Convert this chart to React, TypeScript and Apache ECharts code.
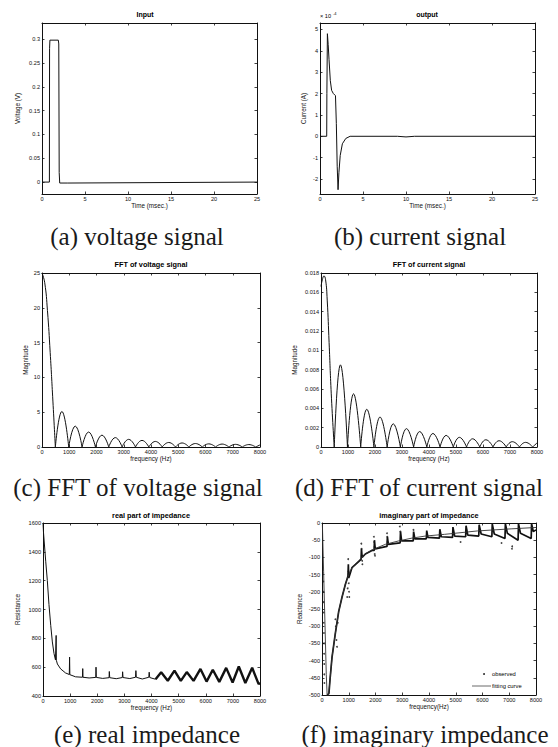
import React, { useEffect, useRef } from 'react';
import * as echarts from 'echarts';

type P = [number, number];

const FONT = '"Liberation Sans", Arial, Helvetica, sans-serif';
const SERIF = '"Liberation Serif", "Times New Roman", serif';
const INK = '#111111';

// ---------- tick labels ----------
const timeTicks = [0, 5, 10, 15, 20, 25];
const freqTicks = [0, 1000, 2000, 3000, 4000, 5000, 6000, 7000, 8000];
const voltageTicks = [0, 0.05, 0.1, 0.15, 0.2, 0.25, 0.3];
const currentTicks = [-2, -1, 0, 1, 2, 3, 4, 5];
const fftVTicks = [0, 5, 10, 15, 20, 25];
const fftITicks = [0, 0.002, 0.004, 0.006, 0.008, 0.01, 0.012, 0.014, 0.016, 0.018];
const resistanceTicks = [400, 600, 800, 1000, 1200, 1400, 1600];
const reactanceTicks = [-500, -450, -400, -350, -300, -250, -200, -150, -100, -50, 0];

// ---------- (a) input voltage, time in msec ----------
const voltageSignal: P[] = [
  [0, 0], [0.86, 0], [0.88, 0.28], [0.92, 0.298], [1.9, 0.298], [1.95, 0.29],
  [2.0, 0.02], [2.06, -0.002], [3, -0.002], [25, 0],
];

// ---------- (b) output current, x 1e-4 A ----------
const currentSignal: P[] = [
  [0, 0], [0.78, 0], [0.8, 2.0], [0.86, 4.8], [0.95, 4.3], [1.05, 3.6], [1.2, 2.6],
  [1.35, 2.15], [1.55, 2.0], [1.8, 1.9], [1.9, 0.6], [2.0, -1.4], [2.1, -2.5],
  [2.2, -1.7], [2.35, -0.9], [2.6, -0.35], [3.0, -0.1], [3.5, 0], [9, 0], [10, -0.03],
  [11, 0], [25, 0],
];

// ---------- (c),(d) FFT lobes ----------
const lobeZeros = [490, 980, 1470, 1960, 2450, 2940, 3430, 3920, 4410, 4900, 5390, 5880, 6370, 6860, 7350, 7840];
const fftVMain: P[] = [[0, 25], [100, 23.6], [200, 19.6], [300, 13.6], [400, 6.6], [490, 0]];
const fftVPeaks: P[] = [
  [730, 5.1], [1220, 3.0], [1710, 2.15], [2200, 1.7], [2690, 1.35], [3180, 1.1], [3670, 0.95],
  [4160, 0.8], [4650, 0.65], [5140, 0.58], [5630, 0.5], [6120, 0.45], [6610, 0.42], [7100, 0.38], [7590, 0.35],
];
const fftVTail: P[] = [[7840, 0], [8000, 0.3]];
const fftIMain: P[] = [
  [0, 0.0166], [50, 0.0173], [110, 0.0177], [170, 0.0173], [230, 0.0152], [300, 0.0108], [380, 0.0055], [490, 0],
];
const fftIPeaks: P[] = [
  [720, 0.0085], [1205, 0.0055], [1695, 0.0039], [2185, 0.0031], [2675, 0.0024], [3165, 0.0019], [3655, 0.0016],
  [4145, 0.0014], [4635, 0.0012], [5125, 0.001], [5615, 0.00085], [6105, 0.00075], [6595, 0.00065], [7085, 0.00055], [7575, 0.00048],
];
const fftITail: P[] = [[7840, 0], [8000, 0.00042]];

// ---------- (e) real part ----------
const resistanceLow: P[] = [
  [0, 1600], [20, 1530], [100, 1335], [160, 1200], [220, 1035], [285, 890], [345, 775], [405, 695],
  [460, 650], [478, 648], [485, 820], [492, 648], [530, 622], [650, 588], [830, 560], [970, 549],
  [980, 670], [990, 548], [1200, 533], [1455, 530], [1465, 590], [1475, 530], [1700, 525], [1945, 529],
  [1955, 600], [1965, 529], [2200, 522], [2435, 527], [2445, 570], [2460, 527], [2700, 520], [2925, 528],
  [2935, 568], [2950, 528], [3200, 521], [3410, 530], [3425, 576], [3440, 530], [3660, 518], [3900, 530],
  [3915, 565], [3935, 528], [4150, 516],
];
const resistanceHigh: P[] = [
  [4150, 516], [4356, 564], [4600, 506], [4847, 576], [5080, 505], [5300, 566], [5550, 505], [5805, 588],
  [6030, 500], [6260, 582], [6500, 498], [6753, 595], [6990, 494], [7218, 605], [7460, 490], [7711, 596],
  [7950, 482], [8000, 492],
];

// ---------- (f) imaginary part ----------
const reactanceFit: P[] = [
  [15, -5], [60, -140], [110, -290], [160, -440], [195, -506], [240, -506], [300, -455], [375, -390],
  [500, -320], [625, -257], [750, -215], [875, -178], [1000, -150], [1120, -130], [1370, -110], [1620, -90],
  [1870, -78], [2370, -62], [2870, -52], [3360, -44], [3860, -38], [4580, -33], [5820, -23], [7070, -17], [8000, -13],
];
const reactanceBand: P[] = [
  [200, -500], [260, -495], [300, -455], [375, -390], [500, -320], [625, -257], [750, -215], [875, -178],
  [970, -155], [985, -120], [1000, -160], [1120, -130], [1370, -112], [1460, -106], [1475, -75], [1500, -100],
  [1620, -90], [1870, -80], [1950, -80], [1960, -50], [1990, -75], [2430, -68], [2445, -40], [2480, -62],
  [2920, -58], [2935, -25], [2975, -52], [3410, -52], [3425, -25], [3470, -46], [3900, -46], [3915, -22],
  [3960, -42], [4390, -44], [4405, -18], [4460, -40], [4880, -42], [4895, -12], [4960, -38], [5370, -40],
  [5385, -8], [5450, -35], [5860, -38], [5875, -5], [5950, -32], [6350, -40], [6365, -3], [6440, -32],
  [6840, -45], [6855, -2], [6930, -30], [7330, -50], [7345, -2], [7420, -30], [7820, -45], [7835, -2],
  [7900, -25], [8000, -20],
];
const reactanceDots: P[] = [
  [50, -170], [55, -200], [60, -230], [62, -260], [66, -290], [70, -320], [74, -350], [78, -380], [82, -410],
  [86, -440], [90, -465], [500, -280], [520, -300], [540, -340], [560, -360], [590, -290], [940, -215],
  [960, -190], [980, -105], [990, -140], [1000, -175], [1010, -200], [1020, -215], [1470, -60], [1480, -75],
  [1490, -95], [1500, -110], [1510, -120], [1940, -40], [1950, -55], [1960, -70], [1970, -90], [1980, -95],
  [2430, -30], [2440, -40], [2450, -55], [2910, -10], [2930, -25], [3420, -20], [5180, -55], [6710, -58],
  [7100, -75], [7110, -68],
];

function lobes(main: P[], zeros: number[], peaks: P[], tail: P[]) {
  const d: (P | null)[] = [...main, null];
  peaks.forEach((p, i) => {
    d.push([zeros[i], 0], p, [zeros[i + 1], 0], null);
  });
  d.push(...tail);
  return d;
}

const grids = [
  { l: 42, t: 23, w: 215, h: 171 },
  { l: 320, t: 23, w: 215, h: 171 },
  { l: 42, t: 273, w: 218, h: 174 },
  { l: 321, t: 273, w: 216, h: 174 },
  { l: 43, t: 523, w: 217, h: 173 },
  { l: 322, t: 523, w: 214, h: 172 },
];

function axisPair(gi: number, dim: 'x' | 'y', min: number, max: number, ticks: number[], name: string, nameGap: number) {
  const base = {
    type: 'value',
    gridIndex: gi,
    min,
    max,
    splitLine: { show: false },
    axisLine: { show: true, onZero: false, lineStyle: { color: INK, width: 1 } },
    axisTick: { show: true, inside: true, length: 2.5, customValues: ticks, lineStyle: { color: INK, width: 0.8 } },
  };
  const main = {
    ...base,
    position: dim === 'x' ? 'bottom' : 'left',
    axisLabel: {
      show: true,
      customValues: ticks,
      fontSize: 5.6,
      margin: dim === 'x' ? 1.5 : 2,
      color: INK,
      fontFamily: FONT,
      formatter: (v: number) => String(v),
    },
    name,
    nameLocation: 'middle',
    nameGap,
    nameTextStyle: { fontSize: 6.3, color: INK, fontFamily: FONT },
  };
  const mirror = {
    ...base,
    position: dim === 'x' ? 'top' : 'right',
    axisLabel: { show: false },
  };
  return [main, mirror];
}

const xAxes = [
  ...axisPair(0, 'x', 0, 25, timeTicks, 'Time (msec.)', 2),
  ...axisPair(1, 'x', 0, 25, timeTicks, 'Time (msec.)', 5),
  ...axisPair(2, 'x', 0, 8000, freqTicks, 'frequency (Hz)', 5),
  ...axisPair(3, 'x', 0, 8000, freqTicks, 'frequency (Hz)', 5),
  ...axisPair(4, 'x', 0, 8000, freqTicks, 'frequency (Hz)', 6),
  ...axisPair(5, 'x', 0, 8000, freqTicks, 'frequency(Hz)', 6),
];
const yAxes = [
  ...axisPair(0, 'y', -0.025, 0.334, voltageTicks, 'Voltage (V)', 22),
  ...axisPair(1, 'y', -2.7, 5.3, currentTicks, 'Current (A)', 14),
  ...axisPair(2, 'y', 0, 25, fftVTicks, 'Magnitude', 14),
  ...axisPair(3, 'y', 0, 0.018, fftITicks, 'Magnitude', 24),
  ...axisPair(4, 'y', 400, 1600, resistanceTicks, 'Resistance', 23),
  ...axisPair(5, 'y', -500, 0, reactanceTicks, 'Reactance', 20),
];

function line(gi: number, data: any[], width = 1, extra: any = {}) {
  return {
    type: 'line',
    xAxisIndex: gi * 2,
    yAxisIndex: gi * 2,
    data,
    showSymbol: false,
    symbol: 'none',
    connectNulls: false,
    lineStyle: { color: INK, width },
    itemStyle: { color: INK },
    ...extra,
  };
}

function txt(x: number, y: number, text: string, size: number, opts: any = {}) {
  return {
    type: 'text',
    x,
    y,
    silent: true,
    style: {
      text,
      fontSize: size,
      fontFamily: opts.family || FONT,
      fontWeight: opts.weight || 'normal',
      fill: opts.fill || '#000000',
      textAlign: opts.align || 'center',
      textVerticalAlign: 'middle',
      align: opts.align || 'center',
      verticalAlign: 'middle',
    },
  };
}

export default function App() {
  const ref = useRef<HTMLDivElement>(null);
  useEffect(() => {
    if (!ref.current) return;
    const chart = echarts.init(ref.current, undefined, { renderer: 'svg' });
    const capStyle = { family: SERIF, fill: '#1a1a1a' };
    const option = {
      animation: false,
      backgroundColor: '#ffffff',
      grid: grids.map((g) => ({ left: g.l, top: g.t, width: g.w, height: g.h, show: false })),
      xAxis: xAxes,
      yAxis: yAxes,
      series: [
        line(0, voltageSignal),
        line(1, currentSignal),
        line(2, lobes(fftVMain, lobeZeros, fftVPeaks, fftVTail), 1, { smooth: 0.5 }),
        line(3, lobes(fftIMain, lobeZeros, fftIPeaks, fftITail), 1, { smooth: 0.5 }),
        line(4, resistanceLow, 1),
        line(4, resistanceHigh, 2.4),
        line(5, reactanceBand, 1.7, { name: 'observed' }),
        {
          type: 'scatter',
          name: 'observed',
          xAxisIndex: 10,
          yAxisIndex: 10,
          data: reactanceDots,
          symbolSize: 1.8,
          itemStyle: { color: INK },
        },
        line(5, reactanceFit, 0.9, { name: 'fitting curve', lineStyle: { color: '#333', width: 0.9 } }),
      ],
      graphic: [
        txt(145, 14, 'Input', 7, { weight: 'bold' }),
        txt(427, 14, 'output', 7, { weight: 'bold' }),
        txt(151, 264, 'FFT of voltage signal', 7.3, { weight: 'bold' }),
        txt(429, 264, 'FFT of current signal', 7.3, { weight: 'bold' }),
        txt(151, 515, 'real part of impedance', 7.3, { weight: 'bold' }),
        txt(429, 515, 'imaginary part of impedance', 7.3, { weight: 'bold' }),
        txt(320, 16, '× 10', 5.6, { align: 'left' }),
        txt(333, 13.5, '-4', 4, { align: 'left' }),
        // legend of (f)
        { type: 'circle', silent: true, shape: { cx: 484, cy: 674, r: 0.9 }, style: { fill: INK } },
        txt(492, 674, 'observed', 5.8, { align: 'left' }),
        { type: 'line', silent: true, shape: { x1: 472, y1: 686, x2: 491, y2: 686 }, style: { stroke: '#444', lineWidth: 0.8 } },
        txt(492, 686, 'fitting curve', 5.8, { align: 'left' }),
        // captions
        txt(137, 236, '(a) voltage signal', 25, capStyle),
        txt(420, 236, '(b) current signal', 25, capStyle),
        txt(138, 487, '(c) FFT of voltage signal', 25, capStyle),
        txt(419, 487, '(d) FFT of current signal', 25, capStyle),
        txt(147, 734, '(e) real impedance', 25, capStyle),
        txt(425, 734, '(f) imaginary impedance', 25, capStyle),
      ],
    };
    chart.setOption(option as any);
    return () => chart.dispose();
  }, []);
  return (
    <div
      ref={ref}
      style={{ position: 'absolute', left: 0, top: 0, width: 558, height: 747, background: '#fff' }}
    />
  );
}
